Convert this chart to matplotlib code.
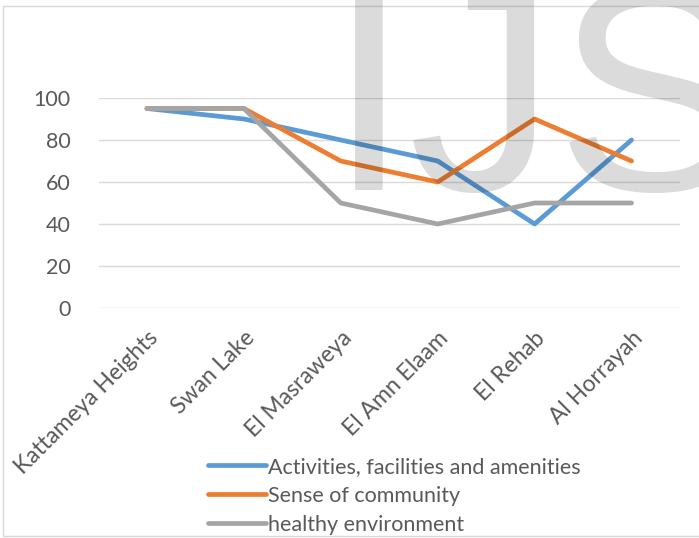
import matplotlib.pyplot as plt
from matplotlib.patches import Rectangle

plt.rcParams['font.family'] = ['Lato', 'DejaVu Sans']

# Data
places = ['Kattameya Heights', 'Swan Lake', 'El Masraweya', 'El Amn Elaam', 'El Rehab', 'Al Horrayah']
activities = [95, 90, 80, 70, 40, 80]
community = [95, 95, 70, 60, 90, 70]
healthy = [95, 95, 50, 40, 50, 50]
series_names = ['Activities, facilities and amenities', 'Sense of community', 'healthy environment']
colors = ['#5B9BD5', '#ED7D31', '#A5A5A5']
yticks = [0, 20, 40, 60, 80, 100]

W, H = 699, 538
fig = plt.figure(figsize=(W / 100, H / 100), dpi=100)
ax = fig.add_axes([98.5 / W, (H - 308) / H, (680 - 98.5) / W, 210 / H])

x = list(range(len(places)))
for vals, name, c in zip([activities, community, healthy], series_names, colors):
    ax.plot(x, vals, color=c, lw=3.4, label=name,
            solid_capstyle='round', solid_joinstyle='round')

ax.set_xlim(-0.5, len(places) - 0.5)
ax.set_ylim(0, 100)
ax.set_yticks(yticks)
ax.set_xticks(x)
ax.set_xticklabels(places, rotation=45, ha='right', va='top',
                   rotation_mode='anchor', fontsize=16.5, color='#595959')
ax.tick_params(axis='y', labelsize=15.5, labelcolor='#595959', length=0, pad=20)
ax.tick_params(axis='x', length=0, pad=14)
ax.grid(axis='y', color='#D9D9D9', lw=1)
ax.set_axisbelow(True)
for s in ax.spines.values():
    s.set_visible(False)

# legend below the plot
leg = fig.legend(loc='upper left', bbox_to_anchor=(197 / W, 1 - 446 / H),
                 frameon=False, fontsize=15.5, handlelength=2.7,
                 handletextpad=0.1, labelspacing=0.42, borderpad=0)
for t in leg.get_texts():
    t.set_color('#595959')

# chart border
fig.patches.append(Rectangle((3 / W, 0.004), 1.0, 1 - 6 / H - 0.004,
                             transform=fig.transFigure, fill=False,
                             edgecolor='#D9D9D9', lw=1))

# watermark
fig.text(328 / W, 1 - 190 / H, 'IJS', fontsize=212, family='Liberation Sans',
         color='black', alpha=0.14, ha='left', va='baseline', zorder=10)

fig.savefig('out.png', dpi=100)
